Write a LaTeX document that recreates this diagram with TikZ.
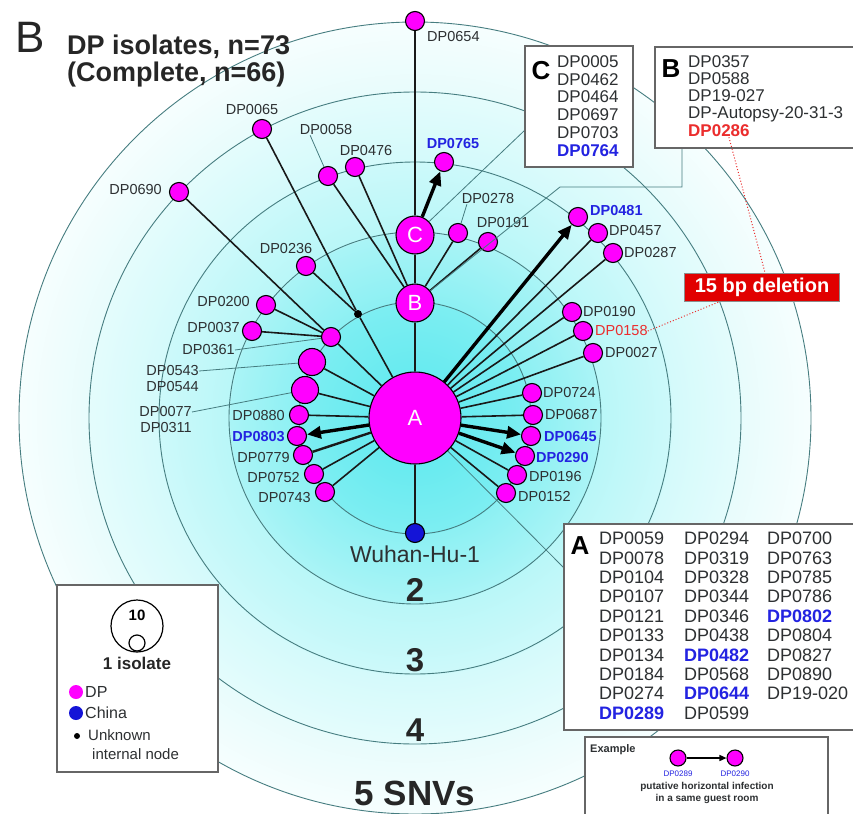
\documentclass[tikz,border=0pt]{standalone}
\usepackage{fontspec}
\setmainfont{Liberation Sans}
\usetikzlibrary{arrows.meta,calc}
\definecolor{ringline}{RGB}{70,125,128}
\definecolor{dpmag}{RGB}{255,0,255}
\definecolor{lblgray}{RGB}{45,48,50}
\definecolor{lblblue}{RGB}{35,35,225}
\definecolor{lblred}{RGB}{235,45,45}
\definecolor{delred}{RGB}{225,0,0}
\definecolor{chinablue}{RGB}{20,20,215}
\definecolor{sh0}{RGB}{90,232,238}
\definecolor{sh1}{RGB}{125,238,242}
\definecolor{sh2}{RGB}{140,240,243}
\definecolor{sh3}{RGB}{170,244,246}
\definecolor{sh4}{RGB}{185,247,248}
\definecolor{sh5}{RGB}{205,249,250}
\definecolor{sh6}{RGB}{212,250,251}
\definecolor{sh7}{RGB}{228,252,252}
\definecolor{sh8}{RGB}{232,252,252}
\definecolor{sh9}{RGB}{246,254,254}
\pgfdeclareradialshading{ringshade}{\pgfpoint{0bp}{0bp}}{color(0bp)=(sh0); color(7.3bp)=(sh1); color(7.35bp)=(sh2); color(11.7bp)=(sh3); color(11.75bp)=(sh4); color(16.2bp)=(sh5); color(16.25bp)=(sh6); color(20.6bp)=(sh7); color(20.65bp)=(sh8); color(25bp)=(sh9); color(50bp)=(white)}
\begin{document}
\begin{tikzpicture}[x=1pt,y=-1pt,
  dpn/.style={circle,fill=dpmag,draw=black,line width=1.1pt,minimum size=19pt,inner sep=0pt},
  bign/.style={dpn,minimum size=27pt},
  hubn/.style={dpn,text=white,font=\fontsize{22}{22}\selectfont},
  lbl/.style={text=lblgray,font=\fontsize{14.5}{14.5}\selectfont,inner sep=0pt},
  lblb/.style={text=lblblue,font=\bfseries\fontsize{14.5}{14.5}\selectfont,inner sep=0pt},
  conn/.style={draw=black!90,line width=1.6pt},
  harrow/.style={draw=black,line width=3.4pt,-{Triangle[length=14pt,width=12pt]}},
  leader/.style={draw=ringline,line width=0.8pt},
  ringln/.style={draw=ringline,line width=0.9pt},
  panel/.style={draw=black!60,line width=1.5pt,fill=white},
  reddot/.style={draw=lblred,dotted,line width=1pt},
  boxtxt/.style={text=lblgray,inner sep=0pt,anchor=west,font=\fontsize{17}{17}\selectfont},
  coltxt/.style={text=lblgray,inner sep=0pt,anchor=north west,align=left,font=\fontsize{18}{19.4}\selectfont},
  ringnum/.style={font=\bfseries\fontsize{33}{33}\selectfont,text=black!85,inner sep=0pt,anchor=base},
]
\clip (0,0) rectangle (853,813);
% background rings
\shade[shading=ringshade] (415,418) circle[radius=396pt];
\foreach \r in {116,186,256,326,396} \draw[ringln] (415,418) circle[radius=\r pt];

% title
\node[inner sep=0pt,font=\fontsize{44}{44}\selectfont,text=black!85] (panelB) at (30,37) {B};
\node[inner sep=0pt,anchor=base west,font=\bfseries\fontsize{27}{27}\selectfont,text=black!85] (title1) at (67,55) {DP isolates, n=73};
\node[inner sep=0pt,anchor=base west,font=\bfseries\fontsize{27}{27}\selectfont,text=black!85] (title2) at (67,82) {(Complete, n=66)};

% hub nodes
\node[hubn,minimum size=92pt] (A) at (415,418) {A};
\node[hubn,minimum size=38pt] (B) at (415,303) {B};
\node[hubn,minimum size=38pt] (C) at (415,235) {C};
\node[circle,fill=chinablue,draw=black,line width=1.1pt,minimum size=19pt,inner sep=0pt] (wuhan) at (415,533) {};
\node[circle,fill=black,minimum size=8pt,inner sep=0pt] (unk) at (358,314) {};

% DP nodes
\node[dpn] (n0654) at (415,21) {};
\node[dpn] (n0765) at (444,162) {};
\node[dpn] (n0065) at (262,129) {};
\node[dpn] (n0058) at (328,176) {};
\node[dpn] (n0476) at (355,167) {};
\node[dpn] (n0690) at (179,192) {};
\node[dpn] (n0236) at (306,266) {};
\node[dpn] (n0200) at (266,305) {};
\node[dpn] (n0037) at (252,331) {};
\node[dpn] (n0361) at (331,337) {};
\node[bign] (n0543) at (312,362) {};
\node[bign] (n0077) at (305,390) {};
\node[dpn] (n0880) at (299,415) {};
\node[dpn] (n0803) at (297,436) {};
\node[dpn] (n0779) at (303,455) {};
\node[dpn] (n0752) at (314,474) {};
\node[dpn] (n0743) at (325,492) {};
\node[dpn] (n0278) at (458,233) {};
\node[dpn] (n0191) at (488,242) {};
\node[dpn] (n0481) at (578,217) {};
\node[dpn] (n0457) at (598,233) {};
\node[dpn] (n0287) at (613,253) {};
\node[dpn] (n0190) at (572,312) {};
\node[dpn] (n0158) at (583,331) {};
\node[dpn] (n0027) at (593,353) {};
\node[dpn] (n0724) at (532,393) {};
\node[dpn] (n0687) at (533,415) {};
\node[dpn] (n0645) at (531,436) {};
\node[dpn] (n0290) at (525,456) {};
\node[dpn] (n0196) at (517,475) {};
\node[dpn] (n0152) at (506,493) {};

% edges
\draw[conn] (A) -- (wuhan);
\draw[conn] (A) -- (B);
\draw[conn] (B) -- (C);
\draw[conn] (C) -- (n0654);
\draw[harrow] (C) -- (n0765);
\foreach \n in {n0058,n0476,n0278,n0191} \draw[conn] (B) -- (\n);
\draw[conn] (A) -- (unk);
\draw[conn] (unk) -- (n0065);
\draw[conn] (unk) -- (n0236);
\draw[conn] (A) -- (n0361);
\foreach \n in {n0690,n0200,n0037} \draw[conn] (n0361) -- (\n);
\foreach \n in {n0543,n0077,n0880,n0752,n0743,n0457,n0287,n0190,n0158,n0027,n0724,n0687,n0196,n0152} \draw[conn] (A) -- (\n);
\draw[conn,line width=2.4pt] (A) -- (n0779);
\draw[harrow] (A) -- (n0803);
\draw[harrow] (A) -- (n0481);
\draw[harrow] (A) -- (n0645);
\draw[harrow] (A) -- (n0290);

% labels
\node[lbl,anchor=west] (l0654) at (427,37) {DP0654};
\node[lblb] (l0765) at (453,144) {DP0765};
\node[lbl] (l0065) at (252,110) {DP0065};
\node[lbl] (l0058) at (326,130) {DP0058};
\node[lbl] (l0476) at (366,151) {DP0476};
\node[lbl,anchor=east] (l0690) at (162,190) {DP0690};
\node[lbl] (l0236) at (286,249) {DP0236};
\node[lbl] (l0278) at (488,199) {DP0278};
\node[lbl] (l0191) at (503,223) {DP0191};
\node[lbl,anchor=east] (l0200) at (250,302) {DP0200};
\node[lbl,anchor=east] (l0037) at (240,328) {DP0037};
\node[lbl,anchor=east] (l0361) at (235,350) {DP0361};
\node[lbl,anchor=east] (l0543) at (199,371) {DP0543};
\node[lbl,anchor=east] (l0544) at (199,387) {DP0544};
\node[lbl,anchor=east] (l0077) at (192,412) {DP0077};
\node[lbl,anchor=east] (l0311) at (192,428) {DP0311};
\node[lbl,anchor=east] (l0880) at (285,416) {DP0880};
\node[lblb,anchor=east] (l0803) at (285,437) {DP0803};
\node[lbl,anchor=east] (l0779) at (290,458) {DP0779};
\node[lbl,anchor=east] (l0752) at (300,478) {DP0752};
\node[lbl,anchor=east] (l0743) at (311,498) {DP0743};
\node[lblb,anchor=west] (l0481) at (590,211) {DP0481};
\node[lbl,anchor=west] (l0457) at (609,231) {DP0457};
\node[lbl,anchor=west] (l0287) at (624,253) {DP0287};
\node[lbl,anchor=west] (l0190) at (583,312) {DP0190};
\node[lbl,anchor=west,text=lblred] (l0158) at (595,331) {DP0158};
\node[lbl,anchor=west] (l0027) at (605,353) {DP0027};
\node[lbl,anchor=west] (l0724) at (543,393) {DP0724};
\node[lbl,anchor=west] (l0687) at (545,415) {DP0687};
\node[lblb,anchor=west] (l0645) at (544,437) {DP0645};
\node[lblb,anchor=west] (l0290) at (536,458) {DP0290};
\node[lbl,anchor=west] (l0196) at (529,477) {DP0196};
\node[lbl,anchor=west] (l0152) at (518,497) {DP0152};
\node[inner sep=0pt,anchor=base,font=\fontsize{23}{23}\selectfont,text=lblgray] (lwuhan) at (415,562) {Wuhan-Hu-1};

% leader lines
\draw[leader] ($(l0058.south west)!0.2!(l0058.south east)$) -- (n0058);
\draw[leader] ($(l0278.south west)!0.1!(l0278.south east)$) -- (n0278);
\draw[leader] (l0361.east) -- (n0361);
\draw[leader] (l0543.east) -- (n0543);
\draw[leader] (l0077.east) -- (n0077);

% ring numbers
\node[ringnum] (r2) at (415,601) {2};
\node[ringnum] (r3) at (415,671) {3};
\node[ringnum] (r4) at (415,741) {4};
\node[ringnum,font=\bfseries\fontsize{35}{35}\selectfont] (r5) at (415,805) {5 SNVs};

% box connectors
\coordinate (cboxin) at (525,130);
\coordinate (bk1) at (560,187);
\coordinate (bk2) at (682,187);
\coordinate (bk3) at (682,148);
\coordinate (aboxin) at (564,568);
\draw[leader] (C) -- (cboxin);
\draw[leader] (B) -- (bk1) -- (bk2) -- (bk3);
\draw[leader] (A) -- (aboxin);

% box C
\draw[panel] (525,46) rectangle (633,167);
\node[inner sep=0pt,font=\bfseries\fontsize{26}{26}\selectfont] (cletter) at (541,71) {C};
\node[boxtxt] (c1) at (557,62) {DP0005};
\node[boxtxt] (c2) at (557,80) {DP0462};
\node[boxtxt] (c3) at (557,97) {DP0464};
\node[boxtxt] (c4) at (557,115) {DP0697};
\node[boxtxt] (c5) at (557,133) {DP0703};
\node[boxtxt,text=lblblue,font=\bfseries\fontsize{17}{17}\selectfont] (c6) at (557,151) {DP0764};

% box B
\draw[panel] (655,47) rectangle (870,148);
\node[inner sep=0pt,font=\bfseries\fontsize{26}{26}\selectfont] (bletter) at (671,69) {B};
\node[boxtxt] (b1) at (688,62) {DP0357};
\node[boxtxt] (b2) at (688,79) {DP0588};
\node[boxtxt] (b3) at (688,96) {DP19-027};
\node[boxtxt] (b4) at (688,114) {DP-Autopsy-20-31-3};
\node[boxtxt,text=lblred,font=\bfseries\fontsize{17}{17}\selectfont] (b5) at (688,131) {DP0286};

% 15 bp deletion
\node[fill=delred,draw=black!45,line width=1pt,text=white,font=\bfseries\fontsize{20}{20}\selectfont,minimum width=155pt,minimum height=28pt,inner sep=0pt] (del) at (762,287) {15 bp deletion};
\draw[reddot] ([xshift=10pt]b5.south) -- ([xshift=3pt]del.north);
\draw[reddot] (l0158.east) -- ([xshift=-42pt]del.south);

% box A
\draw[panel] (564,524) rectangle (870,730);
\node[inner sep=0pt,font=\bfseries\fontsize{26}{26}\selectfont] (aletter) at (580,546) {A};
\node[coltxt] (acol1) at (599,532) {DP0059\\DP0078\\DP0104\\DP0107\\DP0121\\DP0133\\DP0134\\DP0184\\DP0274\\\textcolor{lblblue}{\bfseries DP0289}};
\node[coltxt] (acol2) at (684,532) {DP0294\\DP0319\\DP0328\\DP0344\\DP0346\\DP0438\\\textcolor{lblblue}{\bfseries DP0482}\\DP0568\\\textcolor{lblblue}{\bfseries DP0644}\\DP0599};
\node[coltxt] (acol3) at (767,532) {DP0700\\DP0763\\DP0785\\DP0786\\\textcolor{lblblue}{\bfseries DP0802}\\DP0804\\DP0827\\DP0890\\DP19-020};

% legend
\draw[panel] (57,585) rectangle (218,772);
\node[circle,draw=black,line width=1.2pt,minimum size=52pt,inner sep=0pt] (big10) at (137,626) {};
\node[inner sep=0pt,font=\bfseries\fontsize{15}{15}\selectfont] (t10) at (137,615) {10};
\node[circle,draw=black,line width=1.2pt,fill=white,minimum size=16pt,inner sep=0pt] (small1) at (137,643) {};
\node[inner sep=0pt,font=\bfseries\fontsize{17}{17}\selectfont,text=black!85] (iso) at (137,663) {1 isolate};
\node[circle,fill=dpmag,minimum size=14pt,inner sep=0pt] (legdp) at (76,692) {};
\node[inner sep=0pt,anchor=west,font=\fontsize{16}{16}\selectfont,text=lblgray] (legdpt) at (85,692) {DP};
\node[circle,fill=chinablue,minimum size=14pt,inner sep=0pt] (legcn) at (76,713) {};
\node[inner sep=0pt,anchor=west,font=\fontsize{16}{16}\selectfont,text=lblgray] (legcnt) at (85,713) {China};
\node[circle,fill=black,minimum size=6pt,inner sep=0pt] (legunk) at (77,736) {};
\node[inner sep=0pt,anchor=west,font=\fontsize{15}{15}\selectfont,text=lblgray] (legunkt1) at (88,735) {Unknown};
\node[inner sep=0pt,anchor=west,font=\fontsize{15}{15}\selectfont,text=lblgray] (legunkt2) at (92,754) {internal node};

% example box
\draw[panel] (585,737) rectangle (828,815);
\node[inner sep=0pt,anchor=west,font=\bfseries\fontsize{11}{11}\selectfont,text=lblgray] (ex) at (590,750) {Example};
\node[dpn,minimum size=16pt] (e1) at (678,758) {};
\node[dpn,minimum size=16pt] (e2) at (735,758) {};
\draw[draw=black,line width=1.4pt,-{Triangle[length=7pt,width=6pt]}] (e1) -- (e2);
\node[inner sep=0pt,font=\fontsize{8}{8}\selectfont,text=lblblue] (e1t) at (678,774) {DP0289};
\node[inner sep=0pt,font=\fontsize{8}{8}\selectfont,text=lblblue] (e2t) at (735,774) {DP0290};
\node[inner sep=0pt,align=center,font=\bfseries\fontsize{10}{12.5}\selectfont,text=lblgray] (ext) at (707,793) {putative horizontal infection\\in a same guest room};
\end{tikzpicture}
\end{document}
